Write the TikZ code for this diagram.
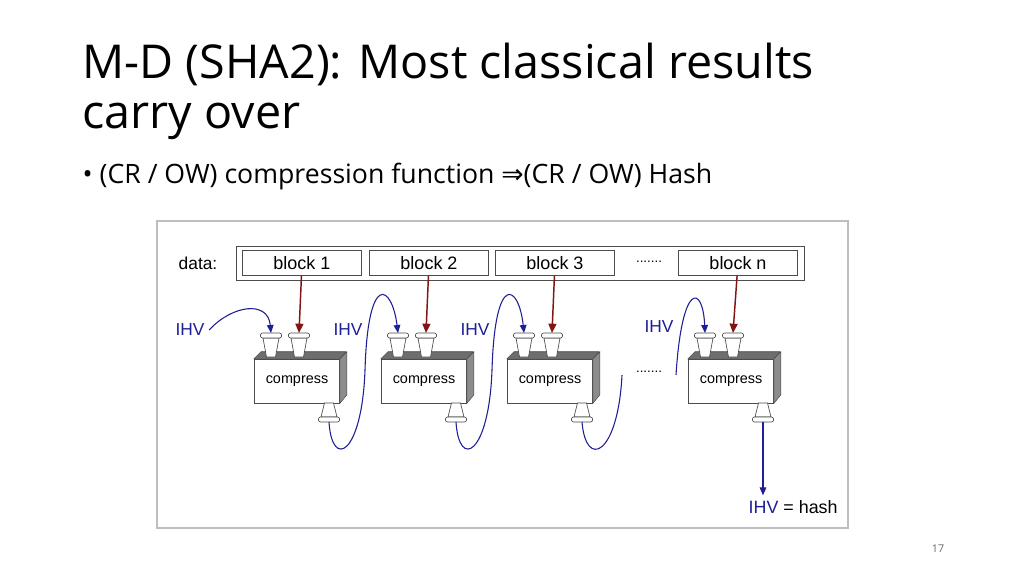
\documentclass[tikz,border=0pt]{standalone}
\usepackage{fontspec}
\setmainfont{Open Sans}
\newfontfamily\diagfont{Liberation Sans}
\newfontfamily\symfont{DejaVu Sans}
\usetikzlibrary{arrows.meta, positioning}
\definecolor{ihvblue}{RGB}{30, 30, 150}
\definecolor{datared}{RGB}{130, 20, 20}
\definecolor{topgray}{RGB}{110, 110, 110}
\definecolor{sidegray}{RGB}{140, 140, 140}
\definecolor{framegray}{RGB}{190, 190, 190}

\begin{document}
\begin{tikzpicture}[
    x=0.75pt, y=-0.75pt,
    block/.style={rectangle, draw=black!70, minimum width=89pt, minimum height=19pt, inner sep=0pt, font=\diagfont\fontsize{13.5}{13.5}\selectfont},
    box/.style={rectangle, draw=black!70, fill=white, minimum width=64pt, minimum height=33pt, inner sep=0pt, font=\diagfont\fontsize{10.8}{10.8}\selectfont},
    ihv/.style={font=\diagfont\fontsize{13}{13}\selectfont, text=ihvblue},
    feed/.style={-{Triangle[length=7pt, width=6pt]}, line width=1.1pt, draw=datared},
    chain/.style={-{Triangle[length=6pt, width=5pt]}, line width=0.8pt, draw=ihvblue},
    funnel/.style={draw=black!70, fill=white, line width=0.5pt}
]
    \useasboundingbox (0,0) rectangle (1024,575);

    % Title and bullet
    \node[anchor=base west, font=\fontsize{35}{35}\selectfont] (title) at (78,78) {M-D (SHA2): Most classical results};
    \node[anchor=base west, font=\fontsize{35}{35}\selectfont] (title2) at (78,128) {carry over};
    \node[anchor=base west, font=\fontsize{20}{20}\selectfont] (bullet) at (78,183)
        {\textbullet\ (CR / OW) compression function {\symfont ⇒}(CR / OW) Hash};
    \node[font=\fontsize{8}{8}\selectfont, text=black!60] (page) at (938,549) {17};

    % Figure frame
    \draw[framegray, line width=0.8pt, fill=white] (157,221) rectangle (848,528);

    % Data row
    \node[font=\diagfont\fontsize{13}{13}\selectfont] (data) at (198,263) {data:};
    \draw[black!70] (236,246) rectangle (804,280);
    \node[block] (b1) at (302,263) {block 1};
    \node[block] (b2) at (429,263) {block 2};
    \node[block] (b3) at (555,263) {block 3};
    \node[block] (bn) at (738,263) {block n};
    \node[font=\diagfont\fontsize{10}{10}\selectfont] (ddots) at (649,262) {.......};

    % Compression boxes with top/side faces and funnels
    \foreach \name/\cx in {c1/297, c2/424, c3/550, c4/731} {
        \node[box] (\name) at (\cx,381) {compress};
        \fill[topgray, draw=black!70] (\name.north west) -- ++(7,-7) -- ++(85,0) -- (\name.north east) -- cycle;
        \fill[sidegray, draw=black!70] (\name.north east) -- ++(7,-7) -- ++(0,43) -- (\name.south east) -- cycle;
        \foreach \dx/\fn in {-26/a, 2/b} {
            \coordinate (\name\fn) at (\cx+\dx,333);
            \draw[funnel] (\cx+\dx-8,338) -- (\cx+\dx+8,338) -- (\cx+\dx+4.5,357) -- (\cx+\dx-4.5,357) -- cycle;
            \draw[funnel, rounded corners=1.5pt] (\cx+\dx-10.5,338) rectangle (\cx+\dx+10.5,333);
        }
        \coordinate (\name o) at (\cx+32,422);
        \draw[funnel] (\cx+27.5,403) -- (\cx+36.5,403) -- (\cx+40,417) -- (\cx+24,417) -- cycle;
        \draw[funnel, rounded corners=1.5pt] (\cx+21.5,417) rectangle (\cx+42.5,422);
    }
    \node[font=\diagfont\fontsize{10}{10}\selectfont] (bdots) at (649,372) {.......};

    % Message blocks into compressors
    \draw[feed] (b1) -- (c1b);
    \draw[feed] (b2) -- (c2b);
    \draw[feed] (b3) -- (c3b);
    \draw[feed] (bn) -- (c4b);

    % Chaining values
    \node[ihv] (ihv0) at (190,330) {IHV};
    \node[ihv] (ihv1) at (348,330) {IHV};
    \node[ihv] (ihv2) at (475,330) {IHV};
    \node[ihv] (ihv3) at (659,327) {IHV};
    \coordinate (d3a) at (622,375);
    \coordinate (d3b) at (676,375);
    \draw[chain] (ihv0.east) .. controls (232,305) and (268,300) .. (c1a);
    \draw[chain] (c1o) .. controls (332,470) and (362,455) .. (365,370)
        .. controls (368,270) and (392,285) .. (c2a);
    \draw[chain] (c2o) .. controls (459,470) and (489,455) .. (492,370)
        .. controls (495,270) and (519,285) .. (c3a);
    \draw[chain, -] (c3o) .. controls (586,470) and (618,455) .. (d3a);
    \draw[chain] (d3b) .. controls (682,280) and (703,285) .. (c4a);
    \node[anchor=base west, font=\diagfont\fontsize{13.4}{13.4}\selectfont] (hash) at (744,513) {\textcolor{ihvblue}{IHV} = hash};
    \draw[chain] (c4o) -- (c4o |- hash.north);
\end{tikzpicture}
\end{document}
